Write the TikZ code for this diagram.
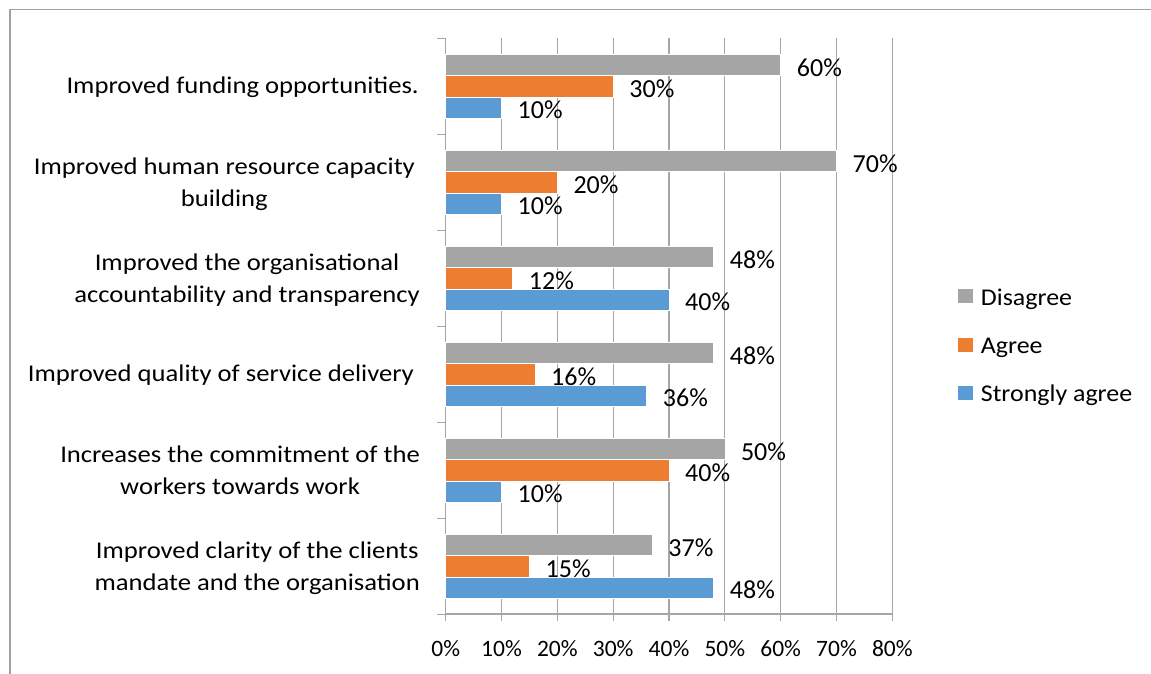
\documentclass[tikz,border=0pt]{standalone}
\usepackage{fontspec}
\setmainfont{Carlito}
\newfontfamily\catfont{Carlito}[FakeStretch=1.11]
\newfontfamily\legfont{Carlito}[FakeStretch=1.08]
\definecolor{cgray}{HTML}{A5A5A5}
\definecolor{corange}{HTML}{ED7D31}
\definecolor{cblue}{HTML}{5B9BD5}
\definecolor{gridc}{HTML}{A6A6A6}
\definecolor{framec}{HTML}{A0A0A0}
\begin{document}
\begin{tikzpicture}[x=1pt,y=-1pt,
  txt/.style={inner sep=0pt, text=black},
  catlab/.style={txt, font=\catfont\fontsize{24}{32.5}\selectfont, anchor=base east},
  catsub/.style={txt, font=\catfont\fontsize{24}{32.5}\selectfont, anchor=base},
  axlab/.style={txt, font=\fontsize{23.5}{30}\selectfont, anchor=base},
  dlab/.style={txt, font=\fontsize{26}{30}\selectfont, anchor=base west},
  leglab/.style={txt, font=\legfont\fontsize{24}{30}\selectfont, anchor=base west},
  gridline/.style={draw=gridc, line width=1.2pt},
  bar/.style={draw=white, line width=0.6pt}]
\useasboundingbox (0,0) rectangle (1151,674);
\fill[white] (0,0) rectangle (1151,674);
% outer frame
\draw[framec, line width=1.3pt] (10,674) -- (10,9.5) -- (1151,9.5);
% gridlines
\foreach \i in {1,...,8}
  \draw[gridline] (445.7+55.83*\i,38.3) -- (445.7+55.83*\i,614);
% bottom ticks
\foreach \i in {0,...,8}
  \draw[gridline] (445.7+55.83*\i,614) -- (445.7+55.83*\i,621);
% left ticks
\foreach \j in {0,...,6}
  \draw[gridline] (437,38.3+96*\j) -- (445.7,38.3+96*\j);
% axes
\draw[gridline] (445.7,38.3) -- (445.7,614) -- (892.3,614);
% bars and data labels
\foreach \d/\a/\s [count=\k from 0] in {60/30/10, 70/20/10, 48/12/40, 48/16/36, 50/40/10, 37/15/48} {
  \pgfmathsetmacro\t{38.3+96*\k}
  \fill[cgray, bar] (445.7,\t+16) rectangle (445.7+5.583*\d,\t+37.33);
  \fill[corange, bar] (445.7,\t+37.33) rectangle (445.7+5.583*\a,\t+58.67);
  \fill[cblue, bar] (445.7,\t+58.67) rectangle (445.7+5.583*\s,\t+80);
  \node[dlab] (d\k) at (445.7+5.583*\d+16,\t+26.67+11.3) {\d\%};
  \node[dlab] (a\k) at (445.7+5.583*\a+16,\t+48+11.3) {\a\%};
  \node[dlab] (s\k) at (445.7+5.583*\s+16,\t+69.33+11.3) {\s\%};
}
% category labels
\node[catlab] (c1) at (419,93.5) {Improved funding opportunities.};
\node[catlab] (c2a) at (415,174.3) {Improved human resource capacity};
\node[catsub] (c2b) at (c2a.base |- 0,206.8) {building};
\node[catlab] (c3b) at (420,302.8) {accountability and transparency};
\node[catsub] (c3a) at (c3b.base |- 0,270.3) {Improved the organisational};
\node[catlab] (c4) at (414,381.8) {Improved quality of service delivery};
\node[catlab] (c5a) at (420,462.3) {Increases the commitment of the};
\node[catsub] (c5b) at (c5a.base |- 0,494.8) {workers towards work};
\node[catlab] (c6b) at (420,590.8) {mandate and the organisation};
\node[catsub] (c6a) at (c6b.base |- 0,558.3) {Improved clarity of the clients};
% axis labels
\foreach \i in {0,...,8} {
  \pgfmathtruncatemacro\p{\i*10}
  \node[axlab] (x\i) at (445.7+55.83*\i,656.5) {\p\%};
}
% legend
\fill[cgray] (958.3,289) rectangle (972.7,303.4);
\node[leglab] (l1) at (980.7,305) {Disagree};
\fill[corange] (958.3,337.7) rectangle (972.7,352.1);
\node[leglab] (l2) at (980.7,353.7) {Agree};
\fill[cblue] (958.3,385.9) rectangle (972.7,400.3);
\node[leglab] (l3) at (980.7,401.9) {Strongly agree};
\end{tikzpicture}
\end{document}
